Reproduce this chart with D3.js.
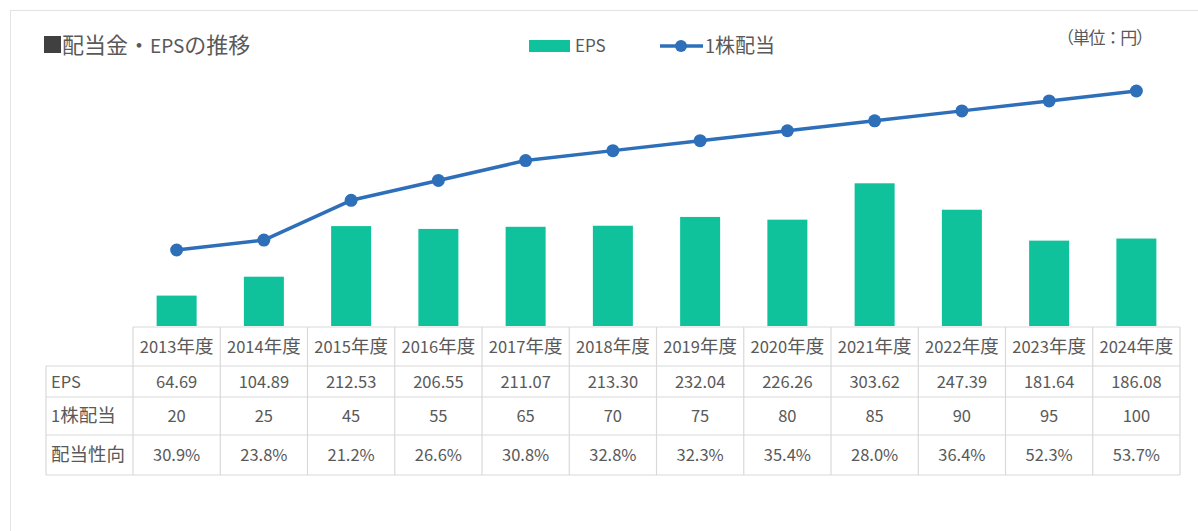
<!DOCTYPE html>
<html lang="ja">
<head>
  <meta charset="UTF-8">
  <title>配当金・EPSの推移</title>
  <script src="https://d3js.org/d3.v7.min.js"></script>
  <style>
    body { margin: 0; background: #fff; }
    text { font-family: "Noto Sans CJK JP", "Noto Sans", sans-serif; fill: #595959; }
  </style>
</head>
<body>
  <svg width="1198" height="531"></svg>
  <script>
    // data
    const years = ["2013年度", "2014年度", "2015年度", "2016年度", "2017年度", "2018年度",
                   "2019年度", "2020年度", "2021年度", "2022年度", "2023年度", "2024年度"];
    const eps = [64.69, 104.89, 212.53, 206.55, 211.07, 213.30, 232.04, 226.26, 303.62, 247.39, 181.64, 186.08];
    const dividend = [20, 25, 45, 55, 65, 70, 75, 80, 85, 90, 95, 100];
    const payout = ["30.9%", "23.8%", "21.2%", "26.6%", "30.8%", "32.8%",
                    "32.3%", "35.4%", "28.0%", "36.4%", "52.3%", "53.7%"];
    const rowLabels = ["EPS", "1株配当", "配当性向"];

    const teal = "#0fc29b";
    const blue = "#2e6fba";
    const grid = "#d9d9d9";

    const svg = d3.select("svg");

    // text with wider CJK glyphs than latin, like the original font
    function mixedText(sel, str, latin, cjk) {
      const runs = str.match(/[\u3000-\u9fff\uff00-\uffef]+|[^\u3000-\u9fff\uff00-\uffef]+/g) || [];
      runs.forEach(r => {
        const isCjk = /[\u3000-\u9fff\uff00-\uffef]/.test(r);
        sel.append("tspan")
          .attr("font-size", isCjk ? cjk : latin)
          .text(r);
      });
    }

    // outer frame
    svg.append("rect")
      .attr("x", 10.5).attr("y", 10.5)
      .attr("width", 1200).attr("height", 540)
      .attr("fill", "none").attr("stroke", "#e3e3e3");

    // scales
    const x = d3.scaleBand()
      .domain(years)
      .range([133, 1180]);

    const yBar = d3.scaleLinear()
      .domain([0, 350])
      .range([326, 326 - 350 * 0.47]);

    const yLine = d3.scaleLinear()
      .domain([20, 100])
      .range([250, 91]);

    const barW = 40;
    const cx = i => x(years[i]) + x.bandwidth() / 2;

    // bars
    svg.selectAll(".bar")
      .data(eps)
      .join("rect")
      .attr("class", "bar")
      .attr("x", (d, i) => cx(i) - barW / 2)
      .attr("y", d => yBar(d))
      .attr("width", barW)
      .attr("height", d => yBar(0) - yBar(d))
      .attr("fill", teal);

    // dividend line
    const line = d3.line()
      .x((d, i) => cx(i))
      .y(d => yLine(d));

    svg.append("path")
      .datum(dividend)
      .attr("d", line)
      .attr("fill", "none")
      .attr("stroke", blue)
      .attr("stroke-width", 3.5)
      .attr("stroke-linejoin", "round");

    svg.selectAll(".dot")
      .data(dividend)
      .join("circle")
      .attr("class", "dot")
      .attr("cx", (d, i) => cx(i))
      .attr("cy", d => yLine(d))
      .attr("r", 6.5)
      .attr("fill", blue);

    // title
    svg.append("rect")
      .attr("x", 44).attr("y", 36).attr("width", 17).attr("height", 17)
      .attr("fill", "#404040");
    mixedText(svg.append("text").attr("x", 62).attr("y", 53), "配当金・EPSの推移", 19, 22);

    // unit
    svg.append("text")
      .attr("x", 1057).attr("y", 44)
      .attr("font-size", 17)
      .attr("textLength", 96)
      .text("（単位：円）");

    // legend
    const lg = svg.append("g");
    lg.append("rect")
      .attr("x", 529).attr("y", 40).attr("width", 41).attr("height", 12)
      .attr("fill", teal);
    lg.append("text")
      .attr("x", 575).attr("y", 52)
      .attr("font-size", 17)
      .text("EPS");
    lg.append("line")
      .attr("x1", 660).attr("x2", 703).attr("y1", 46).attr("y2", 46)
      .attr("stroke", blue).attr("stroke-width", 3.5);
    lg.append("circle")
      .attr("cx", 681).attr("cy", 46).attr("r", 6)
      .attr("fill", blue);
    mixedText(lg.append("text").attr("x", 705).attr("y", 53), "1株配当", 18, 20);

    // data table
    const rowsY = [327, 366, 397, 435, 475];
    const tableLeft = 46;
    const tableRight = 1180;
    const tg = svg.append("g")
      .attr("stroke", grid)
      .attr("stroke-width", 1.2);

    tg.append("line")
      .attr("x1", 133).attr("x2", tableRight)
      .attr("y1", rowsY[0]).attr("y2", rowsY[0]);
    rowsY.slice(1).forEach(y => {
      tg.append("line")
        .attr("x1", tableLeft).attr("x2", tableRight)
        .attr("y1", y).attr("y2", y);
    });
    tg.append("line")
      .attr("x1", tableLeft).attr("x2", tableLeft)
      .attr("y1", rowsY[1]).attr("y2", rowsY[4]);
    years.forEach(yr => {
      tg.append("line")
        .attr("x1", x(yr)).attr("x2", x(yr))
        .attr("y1", rowsY[0]).attr("y2", rowsY[4]);
    });
    tg.append("line")
      .attr("x1", tableRight).attr("x2", tableRight)
      .attr("y1", rowsY[0]).attr("y2", rowsY[4]);

    const rowMid = [347, 382, 416, 455];

    svg.selectAll(".hdr")
      .data(years)
      .join("text")
      .attr("class", "hdr")
      .attr("x", (d, i) => cx(i))
      .attr("y", rowMid[0] + 6)
      .attr("text-anchor", "middle")
      .each(function (d) { mixedText(d3.select(this), d, 16.5, 18.5); });

    svg.selectAll(".rlab")
      .data(rowLabels)
      .join("text")
      .attr("class", "rlab")
      .attr("x", 51)
      .attr("y", (d, i) => rowMid[i + 1] + 6)
      .each(function (d) { mixedText(d3.select(this), d, 16.5, 18.5); });

    const rows = [
      eps.map(d => d.toFixed(2)),
      dividend.map(d => String(d)),
      payout
    ];
    rows.forEach((vals, r) => {
      svg.selectAll(".cell" + r)
        .data(vals)
        .join("text")
        .attr("class", "cell" + r)
        .attr("x", (d, i) => cx(i))
        .attr("y", rowMid[r + 1] + 6)
        .attr("text-anchor", "middle")
        .attr("font-size", 16.5)
        .text(d => d);
    });
  </script>
</body>
</html>
